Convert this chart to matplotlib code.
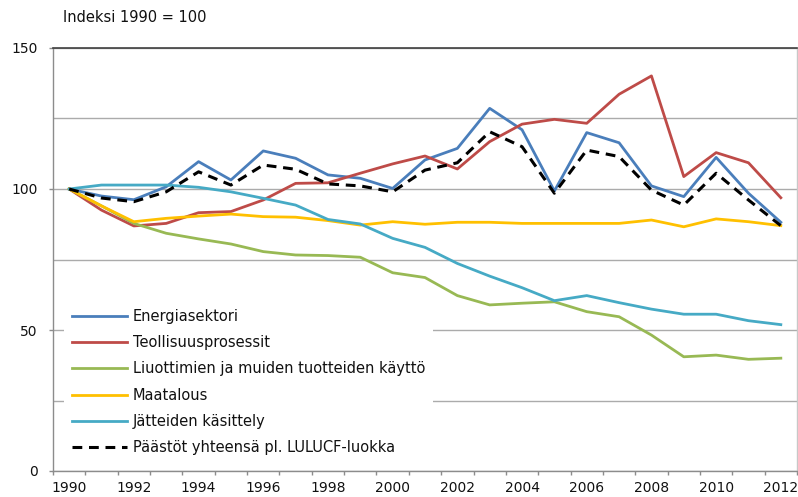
import matplotlib
matplotlib.use("Agg")
import matplotlib.pyplot as plt
import numpy as np

years = list(range(1990, 2013))
energia = [100, 97.5, 96.2, 100.8, 109.7, 103.2, 113.5, 110.9, 105.0, 103.8, 100.2, 110.3, 114.4,
           128.6, 121.0, 99.3, 120.0, 116.4, 101.1, 97.3, 111.2, 98.5, 88.2]
teollisuus = [100, 92.5, 86.9, 87.8, 91.6, 92.0, 96.1, 102.0, 102.2, 105.6, 108.9, 111.7, 107.1,
              116.8, 123.0, 124.7, 123.3, 133.6, 140.1, 104.4, 112.9, 109.3, 96.9]
liuottimet = [100, 94.0, 87.8, 84.3, 82.3, 80.5, 77.8, 76.6, 76.4, 75.8, 70.3, 68.6, 62.2,
              58.9, 59.5, 60.0, 56.5, 54.7, 48.2, 40.5, 41.1, 39.6, 40.0]
maatalous = [100, 94.0, 88.4, 89.6, 90.4, 91.1, 90.2, 90.0, 88.8, 87.2, 88.4, 87.5, 88.2,
             88.2, 87.8, 87.8, 87.8, 87.8, 89.0, 86.6, 89.4, 88.4, 87.0]
jatteet = [100, 101.4, 101.4, 101.4, 100.6, 99.0, 96.7, 94.3, 89.2, 87.6, 82.5, 79.3, 73.6,
           69.1, 65.0, 60.4, 62.2, 59.7, 57.4, 55.6, 55.6, 53.3, 51.9]
yhteensa = [100, 96.8, 95.5, 99.0, 106.1, 101.4, 108.5, 107.0, 101.8, 101.1, 99.0, 106.7, 109.3,
            120.3, 115.0, 98.5, 113.8, 111.5, 99.6, 94.3, 105.6, 96.1, 87.0]

labels = ["Energiasektori", "Teollisuusprosessit", "Liuottimien ja muiden tuotteiden käyttö",
          "Maatalous", "Jätteiden käsittely", "Päästöt yhteensä pl. LULUCF-luokka"]
colors = ["#4A7EBB", "#BE4B48", "#98B954", "#FFC000", "#46AAC5", "#000000"]
series = [energia, teollisuus, liuottimet, maatalous, jatteet, yhteensa]

plt.rcParams['font.family'] = ['DejaVu Sans']

W, H = 798, 497
fig = plt.figure(figsize=(W / 100, H / 100), dpi=100)
ax = fig.add_axes([53 / W, 1 - 471 / H, (797 - 53) / W, (471 - 48) / H])

x = np.arange(len(years))
for s, c, lab in zip(series, colors, labels):
    if c == "#000000":
        ax.plot(x, s, color=c, lw=2.2, ls=(0, (3.2, 2.2)), label=lab, zorder=3)
    else:
        ax.plot(x, s, color=c, lw=2.0, label=lab, zorder=2)

ax.set_xlim(-0.5, len(years) - 0.5)
ax.set_ylim(0, 150)

ax.set_yticks([0, 50, 100, 150])
ax.set_yticks([25, 75, 125], minor=True)
ax.grid(True, which='both', axis='y', color='#ababab', lw=1.0, zorder=0)
ax.set_axisbelow(True)

ax.set_xticks(x[::2])
ax.set_xticklabels([str(y) for y in years[::2]])
ax.set_xticks(np.arange(-0.5, len(years), 1.0), minor=True)
ax.tick_params(axis='x', which='major', length=0, pad=7, labelsize=10, labelcolor='#111111')
ax.tick_params(axis='x', which='minor', length=3, color='#8c8c8c', width=1)
ax.tick_params(axis='y', which='major', length=3, color='#8c8c8c', width=1, labelsize=10, pad=8,
               labelcolor='#111111')
ax.tick_params(axis='y', which='minor', length=0)

for side in ['left', 'bottom', 'right']:
    ax.spines[side].set_color('#8c8c8c')
    ax.spines[side].set_linewidth(1)
ax.spines['right'].set_color('#c8c8c8')
ax.spines['top'].set_color('#404040')
ax.spines['top'].set_linewidth(1.2)

leg = ax.legend(loc='upper left', bbox_to_anchor=(11 / 744, (471 - 301) / 423), frameon=True,
                fontsize=10.5, handlelength=3.8, handletextpad=0.35, labelspacing=0.77,
                borderpad=0.55, borderaxespad=0)
leg.get_frame().set_edgecolor('none')
leg.get_frame().set_facecolor('white')
leg.get_frame().set_alpha(1)
leg.get_frame().set_boxstyle('square', pad=0)
leg.set_zorder(5)
for t in leg.get_texts():
    t.set_color('#111111')

fig.text(63 / W, 1 - 18 / H, "Indeksi 1990 = 100", fontsize=10.5, va='center', ha='left', color='#111111')

fig.savefig("out.png", dpi=100)
